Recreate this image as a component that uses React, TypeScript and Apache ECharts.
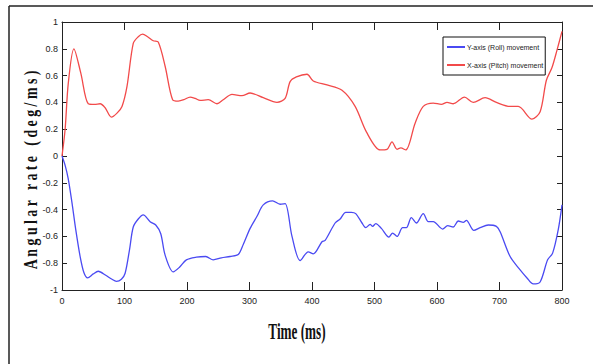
import React, { useEffect, useRef } from "react";
import * as echarts from "echarts";

const xTicks = [0, 100, 200, 300, 400, 500, 600, 700, 800];
const seriesNames = ["Y-axis (Roll) movement", "X-axis (Pitch) movement"];

const pitchTime = [0, 5, 10, 19, 30, 42, 52, 61, 69, 79, 88, 96, 104, 114, 122, 129, 137, 146, 154, 165, 177, 186, 195, 205, 213, 221, 234, 248, 258, 272, 288, 301, 322, 344, 357, 365, 375, 392, 402, 424, 448, 469, 487, 509, 520, 528, 536, 542, 550, 565, 578, 594, 607, 616, 626, 644, 658, 677, 695, 717, 730, 752, 765, 775, 784, 792, 800];
const pitchValues = [0, 0.2, 0.54, 0.8, 0.62, 0.39, 0.385, 0.39, 0.36, 0.29, 0.32, 0.37, 0.52, 0.84, 0.89, 0.91, 0.89, 0.86, 0.85, 0.67, 0.42, 0.41, 0.42, 0.44, 0.43, 0.415, 0.42, 0.39, 0.42, 0.46, 0.45, 0.47, 0.435, 0.4, 0.43, 0.555, 0.59, 0.61, 0.56, 0.53, 0.49, 0.37, 0.18, 0.045, 0.05, 0.105, 0.05, 0.06, 0.045, 0.245, 0.37, 0.395, 0.385, 0.4, 0.39, 0.44, 0.4, 0.435, 0.4, 0.37, 0.37, 0.275, 0.33, 0.565, 0.66, 0.79, 0.93];

const rollTime = [0, 5, 10, 16, 22, 29, 35, 41, 50, 58, 70, 80, 87, 95, 101, 108, 114, 122, 130, 141, 150, 158, 165, 178, 188, 199, 215, 230, 242, 255, 269, 282, 290, 301, 312, 322, 337, 349, 357, 368, 381, 394, 402, 416, 421, 437, 445, 454, 463, 470, 480, 486, 493, 497, 502, 511, 523, 529, 536, 545, 551, 559, 567, 578, 586, 594, 609, 617, 626, 634, 642, 647, 659, 669, 682, 695, 701, 717, 733, 744, 754, 765, 777, 785, 794, 800];
const rollValues = [0, -0.07, -0.17, -0.35, -0.55, -0.75, -0.87, -0.91, -0.88, -0.86, -0.89, -0.92, -0.935, -0.92, -0.875, -0.7, -0.53, -0.47, -0.44, -0.49, -0.515, -0.58, -0.74, -0.865, -0.83, -0.775, -0.755, -0.75, -0.775, -0.76, -0.75, -0.735, -0.66, -0.54, -0.45, -0.365, -0.335, -0.36, -0.355, -0.6, -0.78, -0.715, -0.73, -0.64, -0.63, -0.5, -0.47, -0.42, -0.42, -0.43, -0.5, -0.535, -0.51, -0.525, -0.505, -0.54, -0.605, -0.575, -0.6, -0.535, -0.535, -0.46, -0.5, -0.43, -0.49, -0.49, -0.545, -0.52, -0.53, -0.485, -0.495, -0.48, -0.555, -0.535, -0.515, -0.525, -0.565, -0.75, -0.85, -0.91, -0.955, -0.94, -0.775, -0.725, -0.55, -0.365];

const narrow = "'Liberation Sans Narrow', 'Arial Narrow', Arial, 'Liberation Sans', sans-serif";

export default function App() {
  const ref = useRef<HTMLDivElement>(null);
  useEffect(() => {
    document.body.style.margin = "0";
    const chart = echarts.init(ref.current!, undefined, { renderer: "svg" });
    const pitch = pitchTime.map((t, i) => [t, pitchValues[i]]);
    const roll = rollTime.map((t, i) => [t, rollValues[i]]);
    const axisCommon = {
      type: "value" as const,
      splitLine: { show: false },
      axisLine: { show: true, onZero: false, lineStyle: { color: "#222", width: 1 } },
    };
    chart.setOption({
      animation: false,
      backgroundColor: "#fff",
      grid: { left: 62, top: 22, width: 500, height: 268, containLabel: false },
      legend: {
        orient: "vertical",
        left: 443,
        top: 37,
        backgroundColor: "#fff",
        borderColor: "#111",
        borderWidth: 1,
        borderRadius: 0,
        padding: [5, 2, 5, 4],
        itemGap: 8,
        itemWidth: 18,
        itemHeight: 2,
        icon: "rect",
        data: seriesNames,
        textStyle: { fontSize: 7, fontFamily: narrow, color: "#222", padding: [0, 0, 0, -3], lineHeight: 10 },
      },
      xAxis: [
        {
          ...axisCommon,
          position: "bottom",
          min: xTicks[0],
          max: xTicks[xTicks.length - 1],
          interval: 100,
          axisTick: { show: true, inside: true, length: 8, lineStyle: { color: "#222" } },
          axisLabel: { fontSize: 9, fontFamily: narrow, color: "#222", margin: 6 },
        },
        {
          ...axisCommon,
          position: "top",
          min: xTicks[0],
          max: xTicks[xTicks.length - 1],
          interval: 100,
          axisTick: { show: true, inside: true, length: 8, lineStyle: { color: "#222" } },
          axisLabel: { show: false },
        },
      ],
      yAxis: [
        {
          ...axisCommon,
          position: "left",
          min: -1,
          max: 1,
          interval: 0.2,
          axisTick: { show: true, inside: true, length: 5, lineStyle: { color: "#222" } },
          axisLabel: { fontSize: 9, fontFamily: narrow, color: "#222", margin: 4 },
        },
        {
          ...axisCommon,
          position: "right",
          min: -1,
          max: 1,
          interval: 0.2,
          axisTick: { show: true, inside: true, length: 5, lineStyle: { color: "#222" } },
          axisLabel: { show: false },
        },
      ],
      series: [
        {
          name: seriesNames[0],
          type: "line",
          data: roll,
          symbol: "none",
          smooth: 0.3,
          color: "#4a4af2",
          lineStyle: { width: 1.3, color: "#4a4af2" },
        },
        {
          name: seriesNames[1],
          type: "line",
          data: pitch,
          symbol: "none",
          smooth: 0.3,
          color: "#f24a4a",
          lineStyle: { width: 1.3, color: "#f24a4a" },
        },
      ],
      graphic: [
        { type: "line", shape: { x1: 9, y1: 6, x2: 593, y2: 6 }, style: { stroke: "#222", lineWidth: 1.5 } },
        { type: "line", shape: { x1: 9, y1: 6, x2: 9, y2: 364 }, style: { stroke: "#222", lineWidth: 1.5 } },
        {
          type: "text",
          x: 31,
          y: 170,
          rotation: Math.PI / 2,
          scaleX: 0.77,
          style: {
            text: "A n g u l a r   r a t e   ( d e g / m s )",
            font: "bold 18px 'Liberation Serif', 'Times New Roman', serif",
            fill: "#111",
            textAlign: "center",
            textVerticalAlign: "middle",
          },
        },
        {
          type: "text",
          x: 297,
          y: 331,
          scaleX: 0.55,
          style: {
            text: "Time (ms)",
            font: "bold 24px 'Liberation Serif', 'Times New Roman', serif",
            fill: "#111",
            textAlign: "center",
            textVerticalAlign: "middle",
          },
        },
      ],
    });
    return () => chart.dispose();
  }, []);
  return <div ref={ref} style={{ width: 593, height: 364 }} />;
}
